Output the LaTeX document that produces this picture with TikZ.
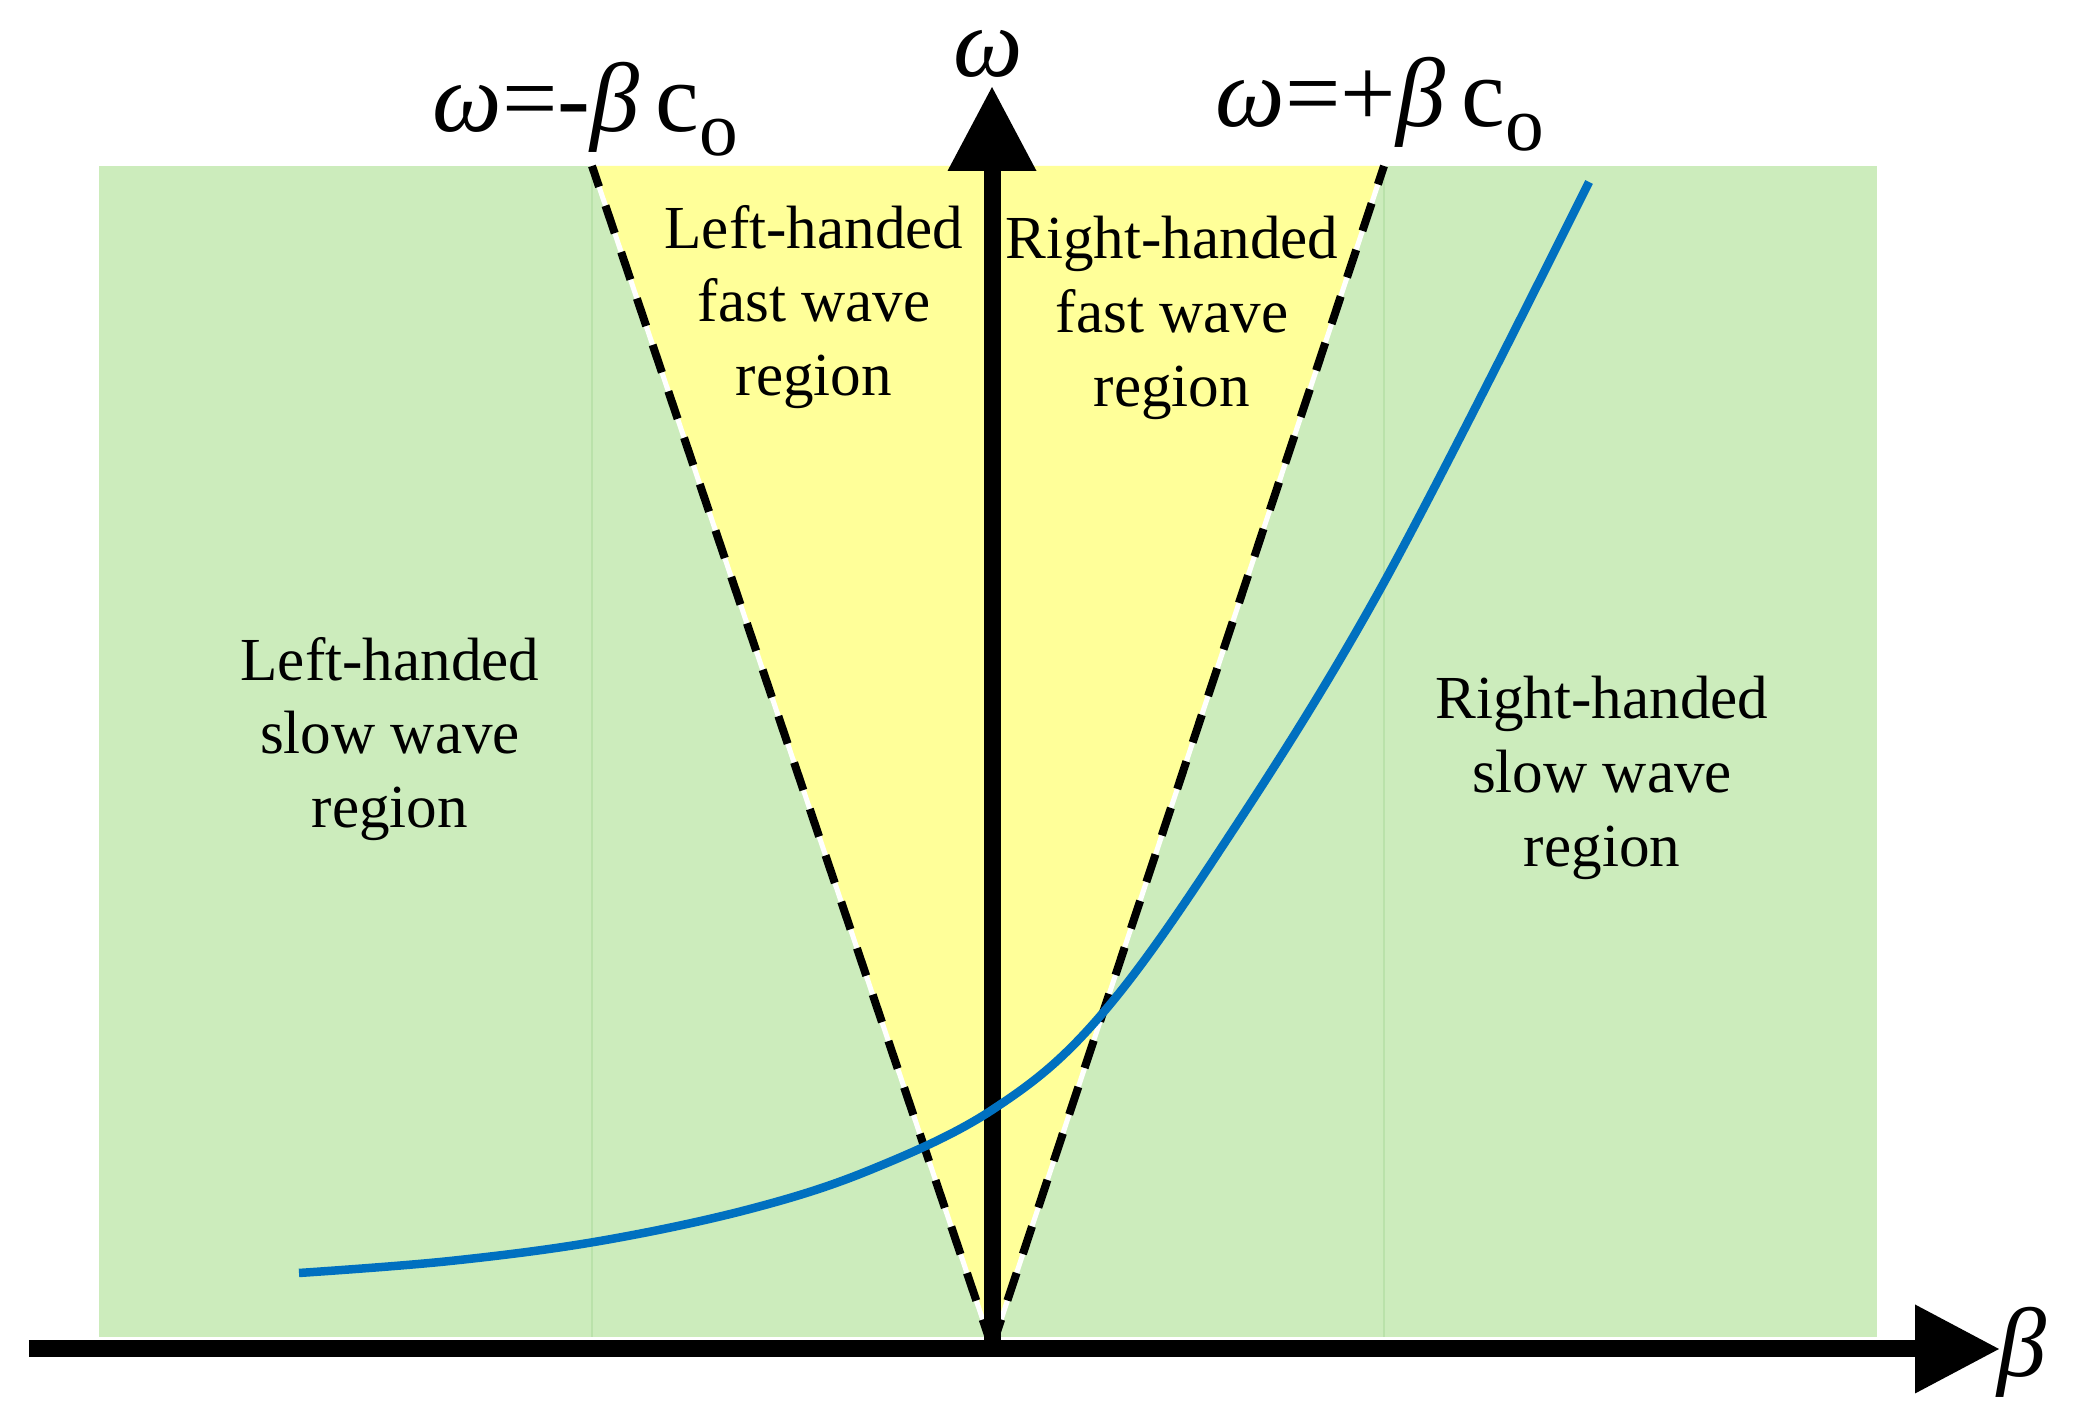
\documentclass[tikz,border=0pt]{standalone}
\usepackage{fontspec}
\setmainfont{Liberation Serif}
\usetikzlibrary{arrows.meta}
\definecolor{SlowGreen}{RGB}{204,236,188}
\definecolor{SlowEdge}{RGB}{186,226,170}
\definecolor{FastYellow}{RGB}{255,255,153}
\definecolor{CurveBlue}{RGB}{0,112,192}
\newcommand{\sublow}[1]{\raisebox{-0.24cm}{\fontsize{22}{22}\selectfont #1}}

\begin{document}
\begin{tikzpicture}[
	axis/.style={line width=0.17cm,-{Triangle[length=0.85cm,width=0.84cm]}},
	light/.style={line width=0.08cm,dash pattern=on 0.29cm off 0.2cm},
	region/.style={align=center,inner sep=0pt,font=\fontsize{17.4}{21}\selectfont},
	eq/.style={inner sep=0pt,font=\fontsize{28}{30}\selectfont}]
\useasboundingbox (0,0) rectangle (20.76,14.27);
\coordinate (O) at (9.92,0.80);
\coordinate (Xs) at (0.29,0.78);
\coordinate (Xe) at (20.00,0.78);
\coordinate (Ye) at (9.92,13.41);
\coordinate (Lt) at (5.92,12.61);
\coordinate (Rt) at (13.84,12.61);
% slow and fast wave regions
\fill[SlowGreen] (0.99,0.90) rectangle (18.77,12.61);
\foreach \x in {5.92,13.84}\draw[SlowEdge,line width=0.02cm] (\x,0.90)--(\x,12.61);
\fill[FastYellow] (O)--(Lt)--(Rt)--cycle;
\draw[white,line width=0.05cm] (Lt)--(O)--(Rt);
\draw[light] (O)--(Lt);
\draw[light] (O)--(Rt);
% axes
\draw[axis] (Xs)--(Xe);
\draw[axis] (O)--(Ye);
% dispersion curve
\draw[CurveBlue,line width=0.085cm] plot[smooth,tension=0.6] coordinates {(2.99,1.54) (4.5,1.66) (6.0,1.86) (7.5,2.18) (8.7,2.57) (9.92,3.17) (10.95,4.05) (12.16,5.71) (13.82,8.41) (15.89,12.45)};
\node[region] (lfast) at (8.14,11.20) {Left-handed\\fast wave\\region};
\node[region] (rfast) at (11.72,11.09) {Right-handed\\fast wave\\region};
\node[region] (lslow) at (3.90,6.88) {Left-handed\\slow wave\\region};
\node[region] (rslow) at (16.02,6.49) {Right-handed\\slow wave\\region};
\node[eq,anchor=base west] (lline) at (4.32,12.95) {{\itshape ω}=-{\itshape β}\,c\sublow{o}};
\node[eq,anchor=base west] (rline) at (12.15,13.00) {{\itshape ω}=+{\itshape β}\,c\sublow{o}};
\node[eq,anchor=base] (wlab) at (9.88,13.50) {\itshape ω};
\node[eq,anchor=base west] (blab) at (19.97,0.50) {\itshape β};
\end{tikzpicture}
\end{document}
